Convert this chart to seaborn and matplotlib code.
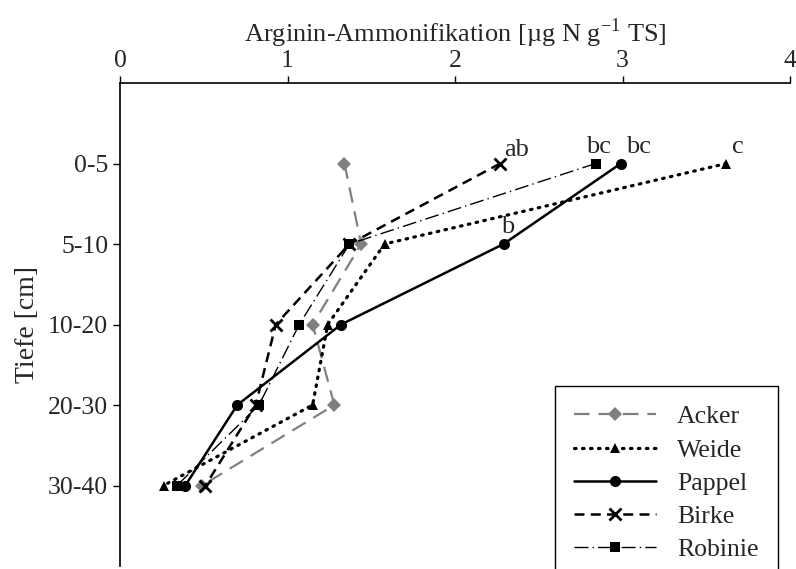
import pandas as pd
import matplotlib
matplotlib.use('Agg')
import matplotlib.pyplot as plt
import seaborn as sns

# depth classes (top to bottom) and measured values per site
tiefen = ['0-5', '5-10', '10-20', '20-30', '30-40']
acker = [1.34, 1.44, 1.15, 1.28, 0.49]
weide = [3.62, 1.58, 1.24, 1.15, 0.26]
pappel = [2.99, 2.29, 1.32, 0.70, 0.39]
birke = [2.27, 1.37, 0.93, 0.81, 0.51]
robinie = [2.84, 1.37, 1.07, 0.83, 0.34]
standorte = ['Acker', 'Weide', 'Pappel', 'Birke', 'Robinie']

# significance letters: (site, depth index, letter, offset in points)
letters = [
    ('Birke', 0, 'ab', (3, 2)),
    ('Robinie', 0, 'bc', (-7, 4)),
    ('Pappel', 0, 'bc', (4, 4)),
    ('Weide', 0, 'c', (4, 4)),
    ('Pappel', 1, 'b', (-2, 4)),
]

werte = dict(zip(standorte, [acker, weide, pappel, birke, robinie]))
rows = []
for s in standorte:
    for i, t in enumerate(tiefen):
        rows.append({'Standort': s, 'pos': i, 'Wert': werte[s][i]})
df = pd.DataFrame(rows)

sns.set_style('white')
plt.rcParams['font.family'] = ['Liberation Serif', 'DejaVu Serif']
plt.rcParams['mathtext.fontset'] = 'custom'
plt.rcParams['mathtext.rm'] = 'Liberation Serif'

palette = {'Acker': '#808080', 'Weide': 'black', 'Pappel': 'black',
           'Birke': 'black', 'Robinie': 'black'}
markers = {'Acker': 'D', 'Weide': '^', 'Pappel': 'o', 'Birke': 'X', 'Robinie': 's'}
dashes = {'Acker': (7, 4), 'Weide': (0.5, 2.0), 'Pappel': '',
          'Birke': (4, 2.5), 'Robinie': (10, 3, 1, 3)}
widths = {'Acker': 1.6, 'Weide': 2.3, 'Pappel': 1.8, 'Birke': 1.8, 'Robinie': 1.0}
msizes = {'Acker': 7, 'Weide': 7, 'Pappel': 8, 'Birke': 8, 'Robinie': 7}

fig = plt.figure(figsize=(7.96, 5.69), dpi=100)
ax = fig.add_axes([120 / 796, 3 / 569, 670 / 796, 483 / 569])

sns.lineplot(data=df, x='Wert', y='pos', hue='Standort', style='Standort',
             palette=palette, markers=markers, dashes=dashes, sort=False,
             orient='y', estimator=None, ax=ax, markeredgewidth=0)


def style_line(line, s):
    line.set_linewidth(widths[s])
    line.set_markersize(msizes[s])
    if s == 'Birke':
        line.set_marker('x')
        line.set_markeredgewidth(2)
        line.set_markeredgecolor('black')
    if s == 'Weide':
        line.set_dash_capstyle('round')


for line, s in zip(ax.get_lines(), standorte):
    style_line(line, s)

for s, i, txt, off in letters:
    ax.annotate(txt, (werte[s][i], i), xytext=off, textcoords='offset points',
                fontsize=19, ha='left', va='bottom')

ax.set_xlim(0, 4)
ax.set_ylim(5, -1)
ax.set_xticks([0, 1, 2, 3, 4])
ax.set_yticks(range(len(tiefen)))
ax.set_yticklabels(tiefen)
ax.xaxis.tick_top()
ax.xaxis.set_label_position('top')
ax.set_xlabel('Arginin-Ammonifikation [µg N g$^{-1}$ TS]', fontsize=19, labelpad=6)
ax.set_ylabel('Tiefe [cm]', fontsize=20, labelpad=6)
ax.tick_params(axis='both', labelsize=18.5, length=5, width=1, color='black',
               direction='out', left=True, top=True, bottom=False)
ax.tick_params(axis='x', pad=3)
for side in ['right', 'bottom']:
    ax.spines[side].set_visible(False)
for side in ['left', 'top']:
    ax.spines[side].set_color('black')
    ax.spines[side].set_linewidth(1.2)

handles, labels = ax.get_legend_handles_labels()
for h, s in zip(handles, labels):
    if s in widths:
        style_line(h, s)
leg = ax.legend(handles, labels, loc='upper left',
                bbox_to_anchor=(555 / 796, 1 - 386 / 569),
                bbox_transform=fig.transFigure, borderaxespad=0,
                fontsize=18.5, handlelength=3.2, handletextpad=0.8,
                labelspacing=0.4, borderpad=0.75, fancybox=False,
                edgecolor='black', framealpha=1, title=None)
leg.get_frame().set_linewidth(1.0)

fig.savefig('out.png', dpi=100)
